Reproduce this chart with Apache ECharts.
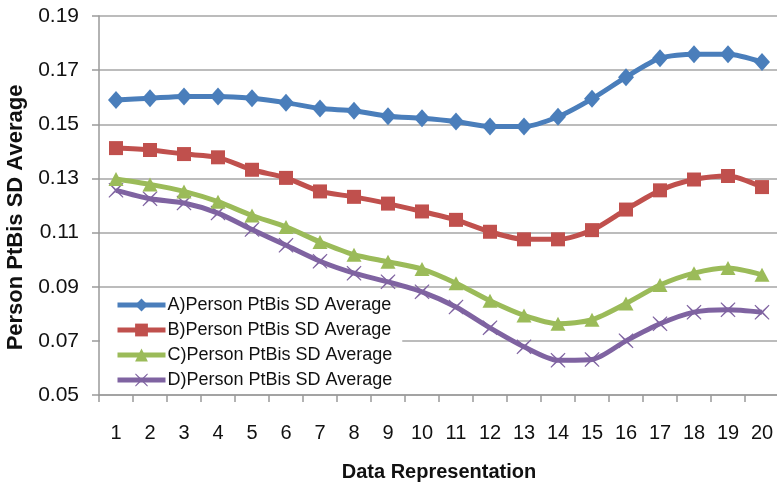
<!DOCTYPE html>
<html><head><meta charset="utf-8">
<script src="https://cdn.jsdelivr.net/npm/echarts@6/dist/echarts.min.js"></script>
<style>html,body{margin:0;padding:0;background:#fff}#c{width:777px;height:487px}</style>
</head><body><div id="c"></div>
<script>
var categories = ['1','2','3','4','5','6','7','8','9','10','11','12','13','14','15','16','17','18','19','20'];
var seriesA = [0.159,0.1596,0.1603,0.1603,0.1596,0.158,0.1558,0.155,0.153,0.1522,0.151,0.1492,0.1492,0.1528,0.1594,0.1674,0.1744,0.1759,0.1759,0.173];
var seriesB = [0.1412,0.1405,0.139,0.1378,0.1332,0.1302,0.1252,0.1232,0.1207,0.1178,0.1147,0.1103,0.1075,0.1075,0.1109,0.1185,0.1256,0.1296,0.1309,0.1268];
var seriesC = [0.1298,0.1278,0.1252,0.1214,0.1163,0.1121,0.1065,0.1018,0.0992,0.0965,0.0913,0.0848,0.0794,0.0763,0.0778,0.0838,0.0906,0.095,0.0969,0.0944];
var seriesD = [0.1256,0.1225,0.1209,0.1172,0.1111,0.1053,0.0994,0.095,0.0918,0.0881,0.0825,0.0748,0.0678,0.0628,0.0631,0.07,0.0763,0.0806,0.0815,0.0806];
var names = ['A)Person PtBis SD Average','B)Person PtBis SD Average','C)Person PtBis SD Average','D)Person PtBis SD Average'];
var yTicks = {min:0.05, max:0.19, interval:0.02};

var crossPath = 'path://M1,0 L10,8.3 L19,0 L20,1 L11.7,10 L20,19 L19,20 L10,11.7 L1,20 L0,19 L8.3,10 L0,1 Z';
var colors = ['#4A7EBB','#C0504D','#9BBB59','#7F63A1'];
var symbols = ['diamond','rect','triangle',crossPath];
var sizes = [[16,18],14,[15,14],15];
var data = [seriesA,seriesB,seriesC,seriesD];
var FONT = 'Liberation Sans';

var chart = echarts.init(document.getElementById('c'));
chart.setOption({
  animation:false,
  backgroundColor:'#fff',
  color:colors,
  grid:{left:99, top:16, width:680, bottom:92, containLabel:false, outerBoundsMode:'none'},
  legend:{
    orient:'vertical', left:100, top:291,
    padding:[5,10,5,15], itemGap:7, itemWidth:48, itemHeight:16,
    backgroundColor:'#fff',
    textStyle:{fontFamily:FONT, fontSize:18, lineHeight:18, color:'#111', padding:[0,0,0,-3]},
    data:names.map(function(n,i){return {name:n, lineStyle:{width:5, color:colors[i]}};})
  },
  xAxis:{
    type:'category', data:categories, boundaryGap:true,
    name:'Data Representation', nameLocation:'middle', nameGap:67,
    nameTextStyle:{fontFamily:FONT, fontSize:20, fontWeight:'bold', color:'#111'},
    axisLine:{show:true, lineStyle:{color:'#9a9a9a', width:1.5}},
    axisTick:{show:true, interval:0, length:7, lineStyle:{color:'#9a9a9a', width:1.5}},
    axisLabel:{interval:0, margin:28, fontFamily:FONT, fontSize:20, color:'#111'},
    splitLine:{show:false}
  },
  yAxis:{
    type:'value', min:yTicks.min, max:yTicks.max, interval:yTicks.interval,
    name:'Person PtBis SD Average', nameLocation:'middle', nameGap:69, nameRotate:90,
    nameTextStyle:{fontFamily:FONT, fontSize:22, fontWeight:'bold', color:'#111', padding:[0,24,0,0]},
    axisLine:{show:true, lineStyle:{color:'#9a9a9a', width:1.5}},
    axisTick:{show:true, length:7, lineStyle:{color:'#9a9a9a', width:1.5}},
    axisLabel:{margin:20, fontFamily:FONT, fontSize:21, color:'#111',
      formatter:function(v){return v.toFixed(2);}},
    splitLine:{show:true, lineStyle:{color:'#a6a6a6', width:1.5}}
  },
  series:data.map(function(d,i){
    return {
      name:names[i], type:'line', data:d, smooth:0.25,
      symbol:symbols[i], symbolSize:sizes[i], showAllSymbol:true,
      lineStyle:{width:5, color:colors[i]},
      itemStyle:{color:colors[i]},
      z:10-i
    };
  })
});
</script></body></html>
